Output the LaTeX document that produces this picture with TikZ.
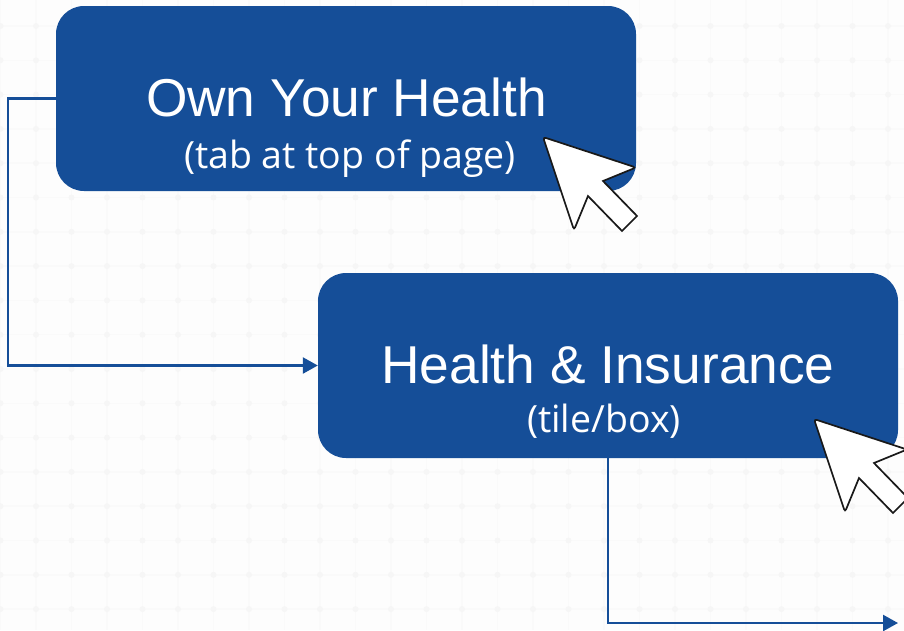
\documentclass[tikz,border=0pt]{standalone}
\usepackage{fontspec}
\setmainfont{Liberation Sans}
\newfontfamily\subfont{Open Sans}
\usetikzlibrary{arrows.meta}
\definecolor{boxblue}{HTML}{154E98}
\definecolor{pagebg}{HTML}{FDFDFD}
\definecolor{gridline}{HTML}{FAFAFA}
\definecolor{griddot}{HTML}{F6F6F6}
\tikzset{
  x=1pt,y=-1pt,
  panel/.style={draw=none,fill=boxblue,rounded corners=28pt,minimum width=580pt,minimum height=185pt,inner sep=0pt},
  headline/.style={text=white,font=\fontsize{53.3}{53.3}\selectfont,inner sep=0pt},
  subline/.style={text=white,font=\subfont\fontsize{37.5}{37.5}\selectfont,inner sep=0pt},
  link/.style={draw=boxblue,line width=2.4pt,-{Triangle[length=15pt,width=16pt]}},
  pointer/.style={draw=black!90,line width=1.7pt,fill=white},
}
\newcommand{\cursorshape}[2]{%
  \draw[pointer,shift={(#1,#2)}] (60,44) -- (94,79) -- (79,94) -- (45,59) [rounded corners=3pt] -- (31,93) -- (0,0) -- (93,30.5) [sharp corners] -- cycle;}
\begin{document}
\begin{tikzpicture}
\useasboundingbox (0,0) rectangle (904,630);
\fill[pagebg] (0,0) rectangle (904,630);
\foreach \k in {0,...,25} {
  \pgfmathsetmacro{\gx}{0.5+35.5*\k}
  \draw[gridline,line width=1.5pt] (\gx,0) -- (\gx,630);
}
\foreach \j in {0,...,18} {
  \pgfmathsetmacro{\gy}{26+34.3*\j}
  \draw[gridline,line width=1.5pt] (0,\gy) -- (904,\gy);
}
\foreach \k in {0,...,25} {
  \foreach \j in {0,...,18} {
    \pgfmathsetmacro{\gx}{0.5+35.5*\k}
    \pgfmathsetmacro{\gy}{26+34.3*\j}
    \fill[griddot] (\gx,\gy) circle[radius=3pt];
  }
}
\node[panel] (own) at (346,98.5) {};
\node[panel] (health) at (608,365.5) {};
\node[headline] (ownhead) at (346.5,97) {Own Your Health};
\node[subline] (ownsub) at (350,159) {(tab at top of page)};
\node[headline] (healthhead) at (608,364) {Health \& Insurance};
\node[subline] (healthsub) at (604,421) {(tile/box)};
\coordinate (exit) at (898,623);
\draw[link] (own.west) -| (8,365.5) -- (health.west);
\draw[link] (health.south) |- (exit);
\begin{scope}
\clip (0,0) rectangle (904,630);
\cursorshape{543}{137}
\cursorshape{814}{419}
\end{scope}
\end{tikzpicture}
\end{document}
